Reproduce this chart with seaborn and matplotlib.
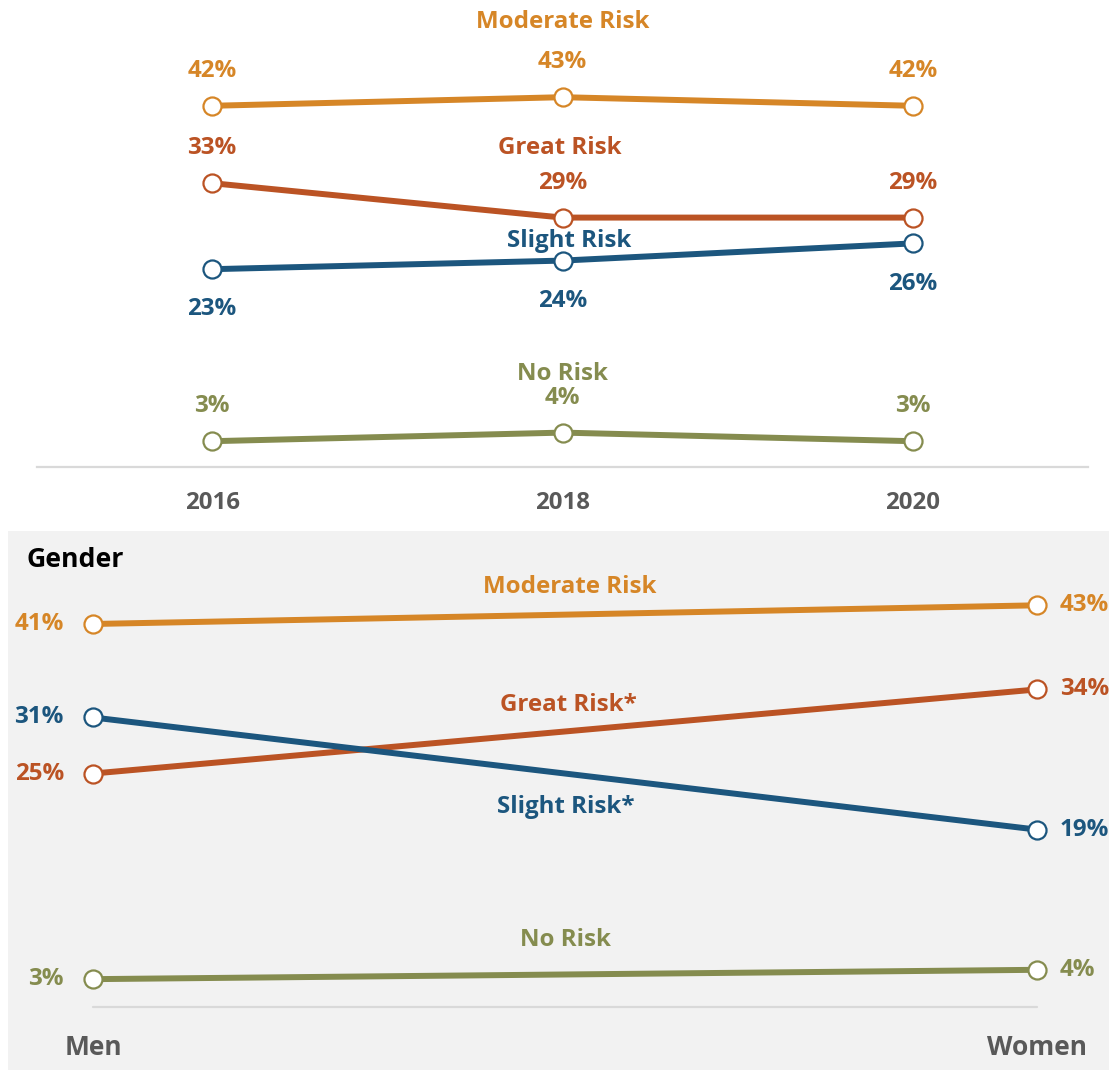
import matplotlib
matplotlib.use("Agg")
import matplotlib.pyplot as plt
import seaborn as sns
import pandas as pd

# ---- data -------------------------------------------------------------
risk_levels = ["Moderate Risk", "Great Risk", "Slight Risk", "No Risk"]
years = [2016, 2018, 2020]
moderate_by_year = [42, 43, 42]
great_by_year = [33, 29, 29]
slight_by_year = [23, 24, 26]
none_by_year = [3, 4, 3]

genders = ["Men", "Women"]
gender_risk_names = ["Moderate Risk", "Great Risk*", "Slight Risk*", "No Risk"]
moderate_by_gender = [41, 43]
great_by_gender = [25, 34]
slight_by_gender = [31, 19]
none_by_gender = [3, 4]

# ---- styling ----------------------------------------------------------
sns.set_theme(style="white")
plt.rcParams["font.family"] = ["Open Sans", "DejaVu Sans"]
plt.rcParams["font.weight"] = "bold"

colors = ["#D68627", "#BB5324", "#1C567E", "#858C4F"]
tick_grey = "#595959"
base_grey = "#D9D9D9"
panel_bg = "#F2F2F2"
LABEL_FS = 17.4
TICK_FS = 17.3

line_kw = dict(linewidth=4.3, marker="o", markersize=13, markerfacecolor="white",
               markeredgewidth=1.6, legend=False)

year_df = pd.DataFrame({
    "year": years * 4,
    "risk": [r for r in risk_levels for _ in years],
    "pct": moderate_by_year + great_by_year + slight_by_year + none_by_year,
})
gender_df = pd.DataFrame({
    "gender": genders * 4,
    "risk": [r for r in gender_risk_names for _ in genders],
    "pct": moderate_by_gender + great_by_gender + slight_by_gender + none_by_gender,
})
gender_df["pos"] = gender_df["gender"].map({g: i for i, g in enumerate(genders)})

fig = plt.figure(figsize=(11.09, 10.70), dpi=100)
fig.patch.set_facecolor("white")

# ---- trend over survey years -------------------------------------------
ax1 = fig.add_axes([37 / 1109, 1 - 467 / 1070, 1051 / 1109, 467 / 1070])
ax1.set_facecolor("none")

# where each series name sits, and whether value labels go above or below
year_name_pos = {"Moderate Risk": (2018.0, 51.7), "Great Risk": (2017.985, 37.1),
                 "Slight Risk": (2018.04, 26.3), "No Risk": (2018.0, 10.8)}
year_label_side = {"Moderate Risk": 1, "Great Risk": 1, "Slight Risk": -1, "No Risk": 1}

for risk, col in zip(risk_levels, colors):
    sub = year_df[year_df["risk"] == risk]
    sns.lineplot(data=sub, x="year", y="pct", ax=ax1, color=col,
                 markeredgecolor=col, **line_kw)
    side = year_label_side[risk]
    for x, v in zip(sub["year"], sub["pct"]):
        ax1.annotate(f"{v}%", (x, v), xytext=(0, 25 if side > 0 else -29),
                     textcoords="offset points", ha="center", va="center",
                     color=col, fontsize=LABEL_FS, fontweight="bold")
    nx, ny = year_name_pos[risk]
    ax1.text(nx, ny, risk, ha="center", va="center", color=col,
             fontsize=LABEL_FS, fontweight="bold")

ax1.set_xlim(2015, 2021)
ax1.set_ylim(0, 54.3)
ax1.set_xticks(years)
ax1.set_xticklabels([str(y) for y in years])
ax1.set_yticks([])
ax1.set_xlabel("")
ax1.set_ylabel("")
for s in ["top", "right", "left"]:
    ax1.spines[s].set_visible(False)
ax1.spines["bottom"].set_color(base_grey)
ax1.spines["bottom"].set_linewidth(1.6)
ax1.tick_params(axis="x", length=0, pad=17, labelsize=TICK_FS, labelcolor=tick_grey)
for t in ax1.get_xticklabels():
    t.set_fontweight("bold")

# ---- by gender ----------------------------------------------------------
ax2 = fig.add_axes([8 / 1109, 0, 1101 / 1109, 539 / 1070])
ax2.set_facecolor(panel_bg)

gender_name_pos = {"Moderate Risk": (0.505, 45.0), "Great Risk*": (0.504, 32.3),
                   "Slight Risk*": (0.501, 21.4), "No Risk": (0.50, 7.2)}

ax2.plot([0, 1], [0, 0], color=base_grey, linewidth=1.6, zorder=1)
for risk, col in zip(gender_risk_names, colors):
    sub = gender_df[gender_df["risk"] == risk]
    sns.lineplot(data=sub, x="pos", y="pct", ax=ax2, color=col,
                 markeredgecolor=col, zorder=3, **line_kw)
    for p, v in zip(sub["pos"], sub["pct"]):
        left = p == 0
        ax2.annotate(f"{v}%", (p, v), xytext=(-21 if left else 16.5, 0),
                     textcoords="offset points", ha="right" if left else "left",
                     va="center", color=col, fontsize=LABEL_FS, fontweight="bold")
    nx, ny = gender_name_pos[risk]
    ax2.text(nx, ny, risk, ha="center", va="center", color=col,
             fontsize=LABEL_FS, fontweight="bold")

ax2.text(19 / 1101, 1 - 29 / 539, "Gender", transform=ax2.transAxes, ha="left",
         va="center", color="black", fontsize=19.2, fontweight="bold")

ax2.set_xlim(-85 / 944, 1 + 72 / 944)
ax2.set_ylim(-6.72, 50.95)
ax2.set_xticks(range(len(genders)))
ax2.set_xticklabels(genders)
ax2.set_yticks([])
ax2.set_xlabel("")
ax2.set_ylabel("")
for s in ax2.spines.values():
    s.set_visible(False)
ax2.tick_params(axis="x", length=0, pad=-26, labelsize=19, labelcolor=tick_grey)
for t in ax2.get_xticklabels():
    t.set_fontweight("bold")

fig.savefig("out.png", dpi=100)
